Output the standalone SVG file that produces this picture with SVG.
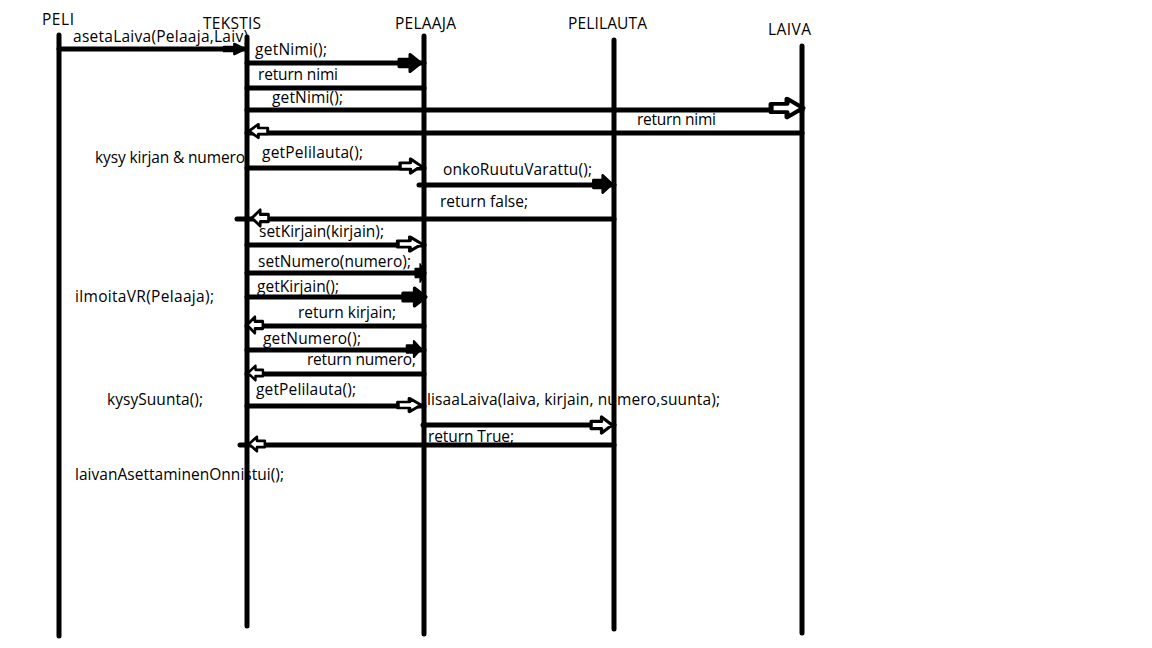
<svg xmlns="http://www.w3.org/2000/svg" xmlns:xlink="http://www.w3.org/1999/xlink" width="1152" height="648" viewBox="0 0 1152 648">
  <style>
    text { font-family: "Open Sans", "Noto Sans", "Liberation Sans", sans-serif; font-size: 15.5px; fill: #000; }
    .life { stroke: #000; stroke-width: 5; stroke-linecap: round; fill: none; }
    .msg { stroke: #000; stroke-width: 5; stroke-linecap: round; fill: none; }
    .open { fill: #fff; stroke: #000; stroke-width: 3.5; stroke-linejoin: round; }
    .solid { fill: #000; stroke: #000; stroke-width: 3; stroke-linejoin: round; }
  </style>
  <defs>
    <!-- block arrow head, tip at origin, pointing right -->
    <path id="blk" d="M-22,-4 H-11 V-9 L0,0 L-11,9 V4 H-22 Z"/>
  </defs>
  <rect width="1152" height="648" fill="#fff"/>

  <!-- lifelines with their headings -->
  <g id="peli">
    <text x="42" y="25" textLength="32">PELI</text>
    <line class="life" x1="59" y1="35" x2="59" y2="636"/>
  </g>
  <g id="tekstis">
    <text x="203" y="29" textLength="58">TEKSTIS</text>
    <line class="life" x1="247" y1="37" x2="247" y2="626"/>
  </g>
  <g id="pelaaja">
    <text x="395" y="29" textLength="61">PELAAJA</text>
    <line class="life" x1="424" y1="36" x2="424" y2="634"/>
  </g>
  <g id="pelilauta">
    <text x="568" y="29" textLength="79">PELILAUTA</text>
    <line class="life" x1="614" y1="40" x2="614" y2="629"/>
  </g>
  <g id="laiva">
    <text x="768" y="35" textLength="43">LAIVA</text>
    <line class="life" x1="802" y1="46" x2="802" y2="633"/>
  </g>

  <!-- side notes on the PELI lifeline -->
  <g id="notes">
    <text x="95" y="163" textLength="150">kysy kirjan &amp; numero</text>
    <text x="75" y="302" textLength="139">ilmoitaVR(Pelaaja);</text>
    <text x="107" y="405" textLength="96">kysySuunta();</text>
    <text x="75" y="480" textLength="209">laivanAsettaminenOnnistui();</text>
  </g>

  <!-- messages -->
  <g id="connectors">
    <line class="msg" x1="59" y1="49" x2="245" y2="49"/>
    <use href="#blk" class="solid" transform="translate(245,49) scale(0.95,0.6)"/>
    <text x="73" y="42" textLength="175">asetaLaiva(Pelaaja,Laiv)</text>

    <line class="msg" x1="247" y1="63" x2="424" y2="63"/>
    <use href="#blk" class="solid" transform="translate(421,63) scale(1,0.95)"/>
    <text x="255" y="55" textLength="72">getNimi();</text>

    <line class="msg" x1="247" y1="88" x2="424" y2="88"/>
    <text x="258" y="80" textLength="80">return nimi</text>

    <line class="msg" x1="247" y1="110" x2="802" y2="110"/>
    <use href="#blk" class="open" transform="translate(803,108) scale(1.45,1.05)"/>
    <text x="272" y="103" textLength="71">getNimi();</text>

    <line class="msg" x1="247" y1="133" x2="802" y2="133"/>
    <use href="#blk" class="open" transform="translate(249,131) scale(-0.85,0.75)"/>
    <text x="637" y="125" textLength="79">return nimi</text>

    <line class="msg" x1="247" y1="168" x2="424" y2="168"/>
    <use href="#blk" class="open" transform="translate(421,166) scale(0.95,0.8)"/>
    <text x="262" y="158" textLength="101">getPelilauta();</text>

    <line class="msg" x1="419" y1="185" x2="614" y2="185"/>
    <use href="#blk" class="solid" transform="translate(612,184) scale(0.85,0.95)"/>
    <text x="443" y="175" textLength="149">onkoRuutuVarattu();</text>

    <line class="msg" x1="237" y1="219" x2="614" y2="219"/>
    <use href="#blk" class="open" transform="translate(252,218) scale(-0.75,0.9)"/>
    <text x="440" y="207" textLength="88">return false;</text>

    <line class="msg" x1="247" y1="245" x2="424" y2="245"/>
    <use href="#blk" class="open" transform="translate(422,244) scale(1.1,0.8)"/>
    <text x="259" y="237" textLength="125">setKirjain(kirjain);</text>

    <line class="msg" x1="247" y1="273" x2="424" y2="273"/>
    <use href="#blk" class="solid" transform="translate(425,273) scale(0.45,0.95)"/>
    <text x="258" y="267" textLength="153">setNumero(numero);</text>

    <line class="msg" x1="247" y1="297" x2="424" y2="297"/>
    <use href="#blk" class="solid" transform="translate(426,297) scale(1.05,1)"/>
    <text x="257" y="292" textLength="82">getKirjain();</text>

    <line class="msg" x1="247" y1="326" x2="424" y2="326"/>
    <use href="#blk" class="open" transform="translate(247,325) scale(-0.72,0.9)"/>
    <text x="298" y="318" textLength="98">return kirjain;</text>

    <line class="msg" x1="247" y1="350" x2="424" y2="350"/>
    <use href="#blk" class="solid" transform="translate(421,349) scale(0.65,0.85)"/>
    <text x="263" y="344" textLength="98">getNumero();</text>

    <line class="msg" x1="247" y1="374" x2="424" y2="374"/>
    <use href="#blk" class="open" transform="translate(248,373) scale(-0.68,0.8)"/>
    <text x="307" y="365" textLength="109">return numero;</text>

    <line class="msg" x1="247" y1="406" x2="424" y2="406"/>
    <use href="#blk" class="open" transform="translate(421,405) scale(1.05,0.75)"/>
    <text x="256" y="395" textLength="100">getPelilauta();</text>

    <line class="msg" x1="423" y1="425" x2="614" y2="425"/>
    <use href="#blk" class="open" transform="translate(612,425) scale(0.95,0.9)"/>
    <text x="427" y="405" textLength="293">lisaaLaiva(laiva, kirjain, numero,suunta);</text>

    <line class="msg" x1="240" y1="445" x2="614" y2="445"/>
    <use href="#blk" class="open" transform="translate(249,444) scale(-0.72,0.8)"/>
    <text x="428" y="442" textLength="86">return True;</text>
  </g>
</svg>
